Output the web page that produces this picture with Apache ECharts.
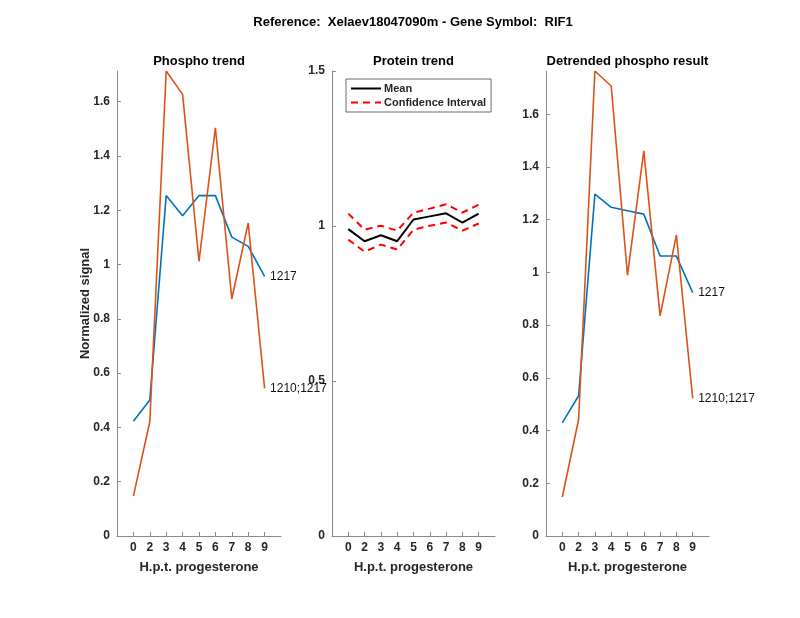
<!DOCTYPE html>
<html>
<head>
<meta charset="utf-8">
<script src="https://cdn.jsdelivr.net/npm/echarts@6/dist/echarts.min.js"></script>
<style>html,body{margin:0;padding:0;background:#fff}#c{width:800px;height:618px}</style>
</head>
<body>
<div id="c"></div>
<script>
const xCategories = ['0','2','3','4','5','6','7','8','9'];
const phosphoBlue = [0.423,0.501,1.254,1.180,1.254,1.254,1.101,1.067,0.956];
const phosphoOrange = [0.147,0.421,1.713,1.627,1.012,1.504,0.873,1.153,0.544];
const proteinMean = [0.990,0.951,0.970,0.951,1.021,1.031,1.041,1.011,1.040];
const proteinUpper = [1.040,0.988,1.001,0.985,1.043,1.056,1.070,1.043,1.069];
const proteinLower = [0.956,0.917,0.940,0.924,0.988,1.001,1.011,0.985,1.008];
const detrendBlue = [0.429,0.532,1.297,1.247,1.234,1.221,1.062,1.062,0.923];
const detrendOrange = [0.148,0.442,1.764,1.707,0.989,1.461,0.835,1.142,0.522];
const seriesLabels = ['1217','1210;1217'];
const phosphoTicks = [0,0.2,0.4,0.6,0.8,1,1.2,1.4,1.6];
const proteinTicks = [0,0.5,1,1.5];
const panelTitles = ['Phospho trend','Protein trend','Detrended phospho result'];
const mainTitle = 'Reference:  Xelaev18047090m - Gene Symbol:  RIF1';
const xName = 'H.p.t. progesterone';
const yName = 'Normalized signal';

const FONT = 'Liberation Sans, Arial, Helvetica, sans-serif';
const AXIS_COLOR = '#8a8a8a';
const TEXT_COLOR = '#262626';
const BLUE = '#0072BD', ORANGE = '#D95319';

const axisData = [''].concat(xCategories, ['']);
const lastIdx = xCategories.length;
function pad(arr, label) {
  const d = [null];
  arr.forEach((v, i) => {
    if (label && i === arr.length - 1) {
      d.push({value: v, symbol: 'circle', symbolSize: 1,
        itemStyle: {color: 'rgba(0,0,0,0)', borderWidth: 0},
        label: {show: true, position: 'right', distance: 5, formatter: label,
          color: '#111', fontFamily: FONT, fontSize: 12}});
    } else d.push(v);
  });
  d.push(null);
  return d;
}

const grids = [
  {left: 117, top: 71, width: 164, height: 465},
  {left: 332, top: 71, width: 163, height: 465},
  {left: 546, top: 71, width: 163, height: 465}
];

function xAxis(i) {
  return {
    type: 'category', gridIndex: i, data: axisData, boundaryGap: false,
    name: xName, nameLocation: 'middle', nameGap: 25,
    nameTextStyle: {fontFamily: FONT, fontSize: 13, fontWeight: 'bold', color: TEXT_COLOR},
    axisLine: {lineStyle: {color: AXIS_COLOR, width: 1}},
    axisTick: {inside: true, length: 4, lineStyle: {color: AXIS_COLOR},
      interval: (idx) => idx > 0 && idx < lastIdx + 1},
    axisLabel: {interval: 0, margin: 6, fontFamily: FONT, fontSize: 12, fontWeight: 'bold', color: TEXT_COLOR},
    splitLine: {show: false}
  };
}
function yAxis(i, ticks, maxFn, withName) {
  const a = {
    type: 'value', gridIndex: i, min: 0, max: maxFn,
    axisLine: {show: true, lineStyle: {color: AXIS_COLOR, width: 1}},
    axisTick: {show: true, inside: true, length: 4, lineStyle: {color: AXIS_COLOR}, customValues: ticks},
    axisLabel: {customValues: ticks, margin: 7, fontFamily: FONT, fontSize: 12, fontWeight: 'bold', color: TEXT_COLOR},
    splitLine: {show: false}
  };
  if (withName) {
    a.name = yName; a.nameLocation = 'middle'; a.nameGap = 25; a.nameMoveOverlap = false;
    a.nameTextStyle = {fontFamily: FONT, fontSize: 13, fontWeight: 'bold', color: TEXT_COLOR};
  }
  return a;
}

const titles = [{text: mainTitle, left: 413, top: 16, textAlign: 'center', padding: 0,
  textStyle: {fontFamily: FONT, fontSize: 13, fontWeight: 'bold', color: '#000'}}];
grids.forEach((g, i) => titles.push({text: panelTitles[i], left: g.left + g.width / 2, top: 55,
  textAlign: 'center', padding: 0,
  textStyle: {fontFamily: FONT, fontSize: 13, fontWeight: 'bold', color: '#000'}}));

function lineSeries(name, arr, xi, color, width, type, label) {
  return {name: name, type: 'line', xAxisIndex: xi, yAxisIndex: xi, data: pad(arr, label),
    symbol: 'none', silent: true, connectNulls: false,
    lineStyle: {color: color, width: width, type: type},
    itemStyle: {color: color}, z: 2};
}

const option = {
  animation: false,
  backgroundColor: '#fff',
  title: titles,
  grid: grids,
  xAxis: [xAxis(0), xAxis(1), xAxis(2)],
  yAxis: [
    yAxis(0, phosphoTicks, v => v.max, true),
    yAxis(1, proteinTicks, 1.5, false),
    yAxis(2, phosphoTicks, v => v.max, false)
  ],
  legend: {
    data: ['Mean', 'Confidence Interval'], orient: 'vertical', left: 346, top: 79,
    padding: [4, 5, 4, 4], itemGap: 3, itemWidth: 30, itemHeight: 11,
    backgroundColor: '#fff', borderColor: '#444', borderWidth: 0.8, borderRadius: 0,
    itemStyle: {color: 'rgba(0,0,0,0)', opacity: 0, borderWidth: 0},
    textStyle: {fontFamily: FONT, fontSize: 11, fontWeight: 'bold', color: TEXT_COLOR, padding: [0, 0, 0, -2]},
    selectedMode: false
  },
  series: [
    lineSeries('1217', phosphoBlue, 0, BLUE, 1.6, 'solid', seriesLabels[0]),
    lineSeries('1210;1217', phosphoOrange, 0, ORANGE, 1.6, 'solid', seriesLabels[1]),
    lineSeries('Mean', proteinMean, 1, '#000', 2, 'solid'),
    lineSeries('Confidence Interval', proteinUpper, 1, '#ff0000', 2, [7, 5]),
    lineSeries('Confidence Interval', proteinLower, 1, '#ff0000', 2, [7, 5]),
    lineSeries('d1217', detrendBlue, 2, BLUE, 1.6, 'solid', seriesLabels[0]),
    lineSeries('d1210;1217', detrendOrange, 2, ORANGE, 1.6, 'solid', seriesLabels[1])
  ]
};
const chart = echarts.init(document.getElementById('c'), null, {renderer: 'canvas'});
chart.setOption(option);
</script>
</body>
</html>
